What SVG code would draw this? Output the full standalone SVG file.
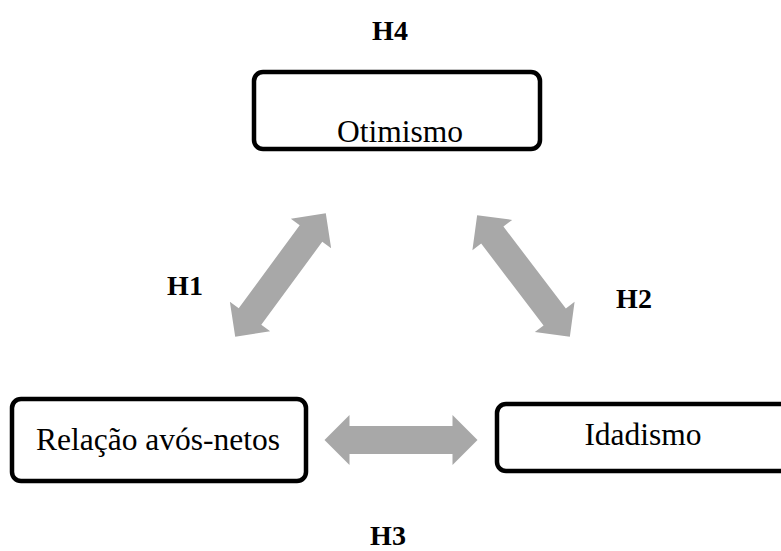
<svg xmlns="http://www.w3.org/2000/svg" width="781" height="551" viewBox="0 0 781 551">
<style>
.box{fill:#fff;stroke:#000;stroke-width:4.5}
.t{font-family:"Liberation Serif","Times New Roman",serif;font-size:31.5px;fill:#000;text-anchor:middle}
.h{font-family:"Liberation Serif","Times New Roman",serif;font-size:28px;font-weight:bold;fill:#000;text-anchor:middle}
.arr{fill:#a8a8a8}
</style>
<defs>
<path id="dbl" d="M-76.5,0 L-51.5,-25 L-51.5,-14 L51.5,-14 L51.5,-25 L76.5,0 L51.5,25 L51.5,14 L-51.5,14 L-51.5,25 Z"/>
</defs>
<rect width="781" height="551" fill="#fff"/>
<g id="connectors" class="arr">
<use href="#dbl" transform="translate(280.5,275) rotate(-53.7)"/>
<use href="#dbl" transform="translate(523.5,276) rotate(52.7)"/>
<use href="#dbl" transform="translate(401,440)"/>
</g>
<g id="otimismo">
<rect class="box" x="254" y="72" width="286" height="77" rx="9"/>
<text class="t" x="400" y="142">Otimismo</text>
</g>
<g id="relacao">
<rect class="box" x="12" y="399" width="294" height="82" rx="9"/>
<text class="t" x="158" y="450">Relação avós-netos</text>
</g>
<g id="idadismo">
<rect class="box" x="497" y="404" width="296" height="67" rx="9"/>
<text class="t" x="643" y="445">Idadismo</text>
</g>
<g id="labels">
<text class="h" x="390" y="40">H4</text>
<text class="h" x="185" y="295">H1</text>
<text class="h" x="634" y="308">H2</text>
<text class="h" x="388" y="545">H3</text>
</g>
</svg>
